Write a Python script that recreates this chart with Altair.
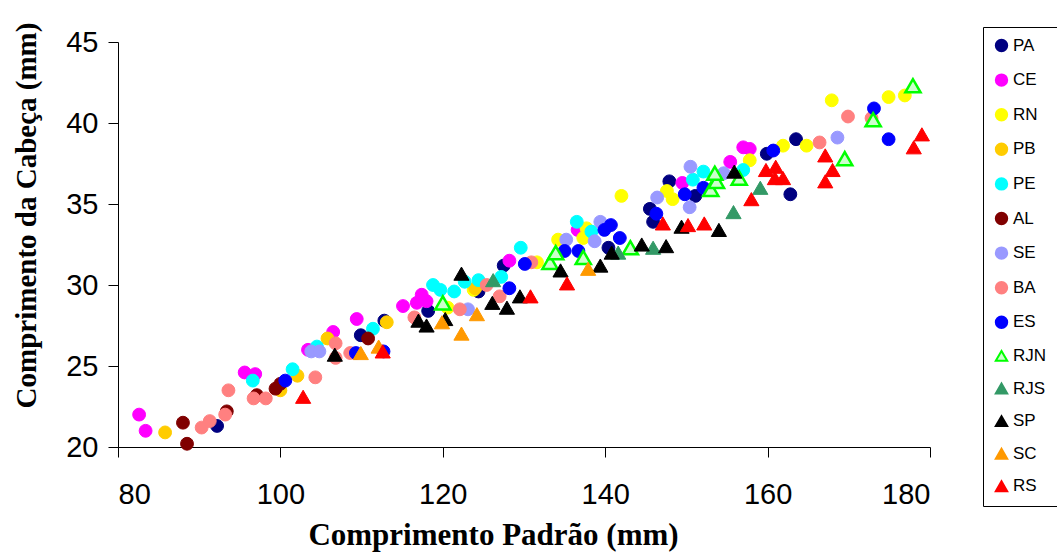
import altair as alt
import pandas as pd

groups = ["PA", "CE", "RN", "PB", "PE", "AL", "SE", "BA", "ES", "RJN", "RJS", "SP", "SC", "RS"]
fills = ["#000080", "#FF00FF", "#FFFF00", "#FFCC00", "#00FFFF", "#800000", "#9999FF", "#FF8080",
         "#0000FF", "#CCFFCC", "#339966", "#000000", "#FF9900", "#FF0000"]
strokes = ["#000080", "#FF00FF", "#FFFF00", "#FFCC00", "#00FFFF", "#800000", "#9999FF", "#FF8080",
           "#0000FF", "#00FF00", "#339966", "#000000", "#FF9900", "#FF0000"]
shapes = ["circle"] * 9 + ["triangle-up"] * 5

PA_x = [92.2, 109.9, 112.8, 118.2, 124.4, 127.5, 140.4, 145.5, 145.9, 147.9, 151.1, 159.9, 163.5, 162.8]
PA_y = [21.3, 26.9, 27.8, 28.4, 29.6, 31.2, 32.3, 34.7, 33.9, 36.4, 35.5, 38.1, 39.0, 35.6]
CE_x = [82.6, 83.4, 95.6, 96.9, 103.4, 106.5, 109.4, 115.1, 116.8, 117.4, 118.0, 128.2, 136.6, 149.5, 155.4, 157.0, 157.8]
CE_y = [22.0, 21.0, 24.6, 24.5, 26.0, 27.1, 27.9, 28.7, 28.9, 29.4, 29.0, 31.5, 33.4, 36.3, 37.6, 38.5, 38.4]
RN_x = [120.6, 123.8, 131.6, 134.2, 137.3, 137.7, 142.0, 147.6, 148.3, 157.8, 161.9, 164.8, 167.9, 174.9, 176.9]
RN_y = [28.6, 29.7, 31.4, 32.8, 32.9, 33.5, 35.5, 35.8, 35.3, 37.7, 38.6, 38.6, 41.4, 41.6, 41.7]
PB_x = [85.8, 100.0, 102.1, 105.8, 113.1, 124.0]
PB_y = [20.9, 23.5, 24.4, 26.7, 27.7, 29.8]
PE_x = [96.6, 101.5, 104.5, 111.4, 118.8, 119.7, 121.4, 122.7, 124.4, 127.2, 129.6, 136.5, 138.3, 150.8, 152.1, 157.0]
PE_y = [24.1, 24.8, 26.2, 27.3, 30.0, 29.7, 29.6, 30.2, 30.3, 30.5, 32.3, 33.9, 33.3, 36.5, 37.0, 37.1]
AL_x = [88.0, 88.5, 93.4, 97.1, 99.4, 100.0, 110.8]
AL_y = [21.5, 20.2, 22.2, 23.2, 23.6, 23.9, 26.7]
SE_x = [103.8, 104.8, 123.1, 135.2, 138.7, 139.4, 146.4, 150.4, 150.5, 154.6, 168.6]
SE_y = [25.9, 25.9, 28.5, 32.8, 32.7, 33.9, 35.4, 34.8, 37.3, 36.9, 39.1]
BA_x = [90.3, 91.3, 93.2, 93.6, 96.7, 98.2, 104.3, 106.8, 106.8, 108.6, 116.5, 122.1, 125.4, 127.0, 130.9, 166.4, 169.9, 172.8]
BA_y = [21.2, 21.6, 22.0, 23.5, 23.0, 23.0, 24.3, 25.5, 26.4, 25.8, 28.0, 28.5, 30.0, 29.3, 31.4, 38.8, 40.4, 40.3]
ES_x = [100.6, 109.3, 112.7, 128.2, 130.1, 135.0, 136.7, 139.9, 140.7, 141.8, 146.3, 149.8, 152.1, 160.7, 173.1, 174.9]
ES_y = [24.1, 25.8, 25.9, 29.8, 31.3, 32.1, 32.1, 33.4, 33.7, 32.9, 34.4, 35.6, 36.0, 38.3, 40.9, 39.0]
RJN_x = [120.0, 133.2, 133.9, 137.3, 143.1, 153.0, 153.7, 153.5, 156.5, 169.5, 173.0, 177.9]
RJN_y = [28.9, 31.4, 32.0, 31.7, 32.3, 35.9, 36.4, 36.9, 36.6, 37.8, 40.2, 42.3]
RJS_x = [126.2, 141.6, 145.9, 155.8, 159.1]
RJS_y = [30.3, 32.0, 32.3, 34.5, 36.0]
SP_x = [106.7, 117.0, 118.0, 120.3, 122.3, 126.1, 127.9, 129.5, 134.5, 139.4, 140.8, 144.5, 147.5, 149.4, 154.0, 155.9]
SP_y = [25.7, 27.8, 27.5, 27.9, 30.7, 28.9, 28.6, 29.3, 30.9, 31.2, 32.0, 32.5, 32.4, 33.6, 33.4, 37.0]
SC_x = [109.9, 112.1, 119.9, 122.3, 124.2, 137.9]
SC_y = [25.8, 26.2, 27.7, 27.0, 28.2, 31.0]
RS_x = [102.8, 112.6, 130.8, 135.3, 147.1, 150.2, 152.2, 158.0, 159.8, 161.0, 160.9, 161.9, 167.1, 168.0, 167.1, 178.0, 179.0]
RS_y = [23.1, 25.9, 29.3, 30.1, 33.8, 33.7, 33.8, 35.3, 37.1, 37.3, 36.6, 36.6, 38.0, 37.1, 36.4, 38.5, 39.3]

series = {
    "PA": (PA_x, PA_y), "CE": (CE_x, CE_y), "RN": (RN_x, RN_y), "PB": (PB_x, PB_y),
    "PE": (PE_x, PE_y), "AL": (AL_x, AL_y), "SE": (SE_x, SE_y), "BA": (BA_x, BA_y),
    "ES": (ES_x, ES_y), "RJN": (RJN_x, RJN_y), "RJS": (RJS_x, RJS_y), "SP": (SP_x, SP_y),
    "SC": (SC_x, SC_y), "RS": (RS_x, RS_y),
}

rows = []
for i, g in enumerate(groups):
    xs, ys = series[g]
    for x, y in zip(xs, ys):
        rows.append({"group": g, "cp": x, "cc": y, "ord": i})
df = pd.DataFrame(rows)

tri = [g for g, s in zip(groups, shapes) if s != "circle"]

base = alt.Chart(df).encode(
    x=alt.X("cp:Q", scale=alt.Scale(domain=[80, 180], nice=False),
            axis=alt.Axis(title="Comprimento Padrão (mm)", values=[80, 100, 120, 140, 160, 180],
                          titleX=375, titleY=97, titleBaseline="alphabetic", titleFontSize=31)),
    y=alt.Y("cc:Q", scale=alt.Scale(domain=[20, 45], nice=False, zero=False),
            axis=alt.Axis(title="Comprimento da Cabeça (mm)", values=[20, 25, 30, 35, 40, 45],
                          titleX=-83, titleY=173, titleBaseline="alphabetic", titleFontSize=29)),
    shape=alt.Shape("group:N", scale=alt.Scale(domain=groups, range=shapes), title=None),
    fill=alt.Fill("group:N", scale=alt.Scale(domain=groups, range=fills), title=None),
    stroke=alt.Stroke("group:N", scale=alt.Scale(domain=groups, range=strokes), title=None),
    size=alt.condition(alt.FieldOneOfPredicate(field="group", oneOf=tri), alt.value(230), alt.value(165)),
    strokeWidth=alt.condition(alt.FieldEqualPredicate(field="group", equal="RJN"), alt.value(2.5), alt.value(1)),
    order=alt.Order("ord:Q"),
)

chart = base.mark_point(filled=False, opacity=1).properties(
    width=812, height=405,
    autosize=alt.AutoSizeParams(type="none"),
    padding={"left": 118, "top": 42, "right": 127, "bottom": 107},
).configure_view(stroke=None).configure_axis(
    grid=False, domainColor="#000000", domainWidth=1, tickColor="#000000", tickSize=10, tickWidth=1,
    labelFont="Liberation Sans", labelFontSize=29, labelColor="#000000",
    titleFont="Liberation Serif", titleFontWeight="bold", titleColor="#000000",
).configure_axisX(labelPadding=23).configure_axisY(labelPadding=10).configure_legend(
    orient="none", legendX=865, legendY=-15, strokeColor="#000000", fillColor="#FFFFFF",
    padding=10, rowPadding=13.6, labelFont="Liberation Sans", labelFontSize=17, labelColor="#000000",
    symbolSize=130, symbolStrokeWidth=2, labelOffset=3, symbolOpacity=1,
)

chart.save("out.html", embed_options={"renderer": "svg", "actions": False})
